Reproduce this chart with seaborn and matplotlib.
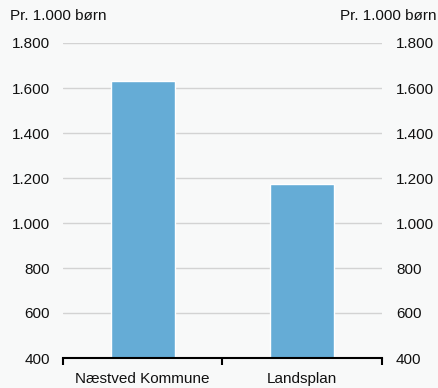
import matplotlib
matplotlib.use("Agg")
import matplotlib.pyplot as plt
import seaborn as sns
import pandas as pd
from matplotlib.ticker import FuncFormatter

categories = ["Næstved Kommune", "Landsplan"]
values = [1630, 1175]
yticks = [400, 600, 800, 1000, 1200, 1400, 1600, 1800]
unit_label = "Pr. 1.000 børn"

sns.set_style("white")
plt.rcParams['font.family'] = ['Liberation Sans', 'DejaVu Sans']

FS = 11
bg = "#f8f9f9"
fig = plt.figure(figsize=(4.39, 3.88), dpi=100, facecolor=bg)
ax = fig.add_axes([63/439, 1-358/388, (382-63)/439, (358-43)/388])
ax.set_facecolor(bg)

df = pd.DataFrame({"cat": categories, "val": values})
sns.barplot(data=df, x="cat", y="val", color="#65acd6", width=0.4, ax=ax,
            saturation=1, zorder=3)

ax.set_ylim(400, 1800)
ax.set_xlim(-0.5, 1.5)
ax.set_yticks(yticks)
fmt = FuncFormatter(lambda v, p: f"{int(v):,}".replace(",", "."))
ax.yaxis.set_major_formatter(fmt)
ax.grid(axis="y", color="#d3d3d3", linewidth=1, zorder=0)
ax.set_axisbelow(True)
for s in ["left", "right", "top"]:
    ax.spines[s].set_visible(False)
ax.spines["bottom"].set_color("black")
ax.spines["bottom"].set_linewidth(1.5)
ax.spines["bottom"].set_zorder(5)

ax.set_xticks([0, 1])
ax.set_xticklabels(categories, fontsize=FS)
ax.set_xticks([-0.5, 0.5, 1.5], minor=True)
ax.tick_params(axis="x", which="major", bottom=True, length=0, pad=10, colors="#111111")
ax.tick_params(axis="x", which="minor", bottom=True, length=5, width=1.5, color="black", direction="out")
ax.tick_params(axis="y", left=True, length=0, labelsize=FS, pad=9.5, colors="#111111")
ax.set_xlabel("")
ax.set_ylabel("")

ax2 = ax.twinx()
ax2.set_ylim(400, 1800)
ax2.set_yticks(yticks)
ax2.yaxis.set_major_formatter(fmt)
ax2.tick_params(axis="y", right=True, length=0, labelsize=FS, pad=10, colors="#111111")
for s in ["left", "right", "top", "bottom"]:
    ax2.spines[s].set_visible(False)

fig.text(10/439, 1-16/388, unit_label, fontsize=FS, ha="left", va="center", color="#111111")
fig.text(437/439, 1-16/388, unit_label, fontsize=FS, ha="right", va="center", color="#111111")

fig.savefig("out.png", dpi=100, facecolor=bg)
